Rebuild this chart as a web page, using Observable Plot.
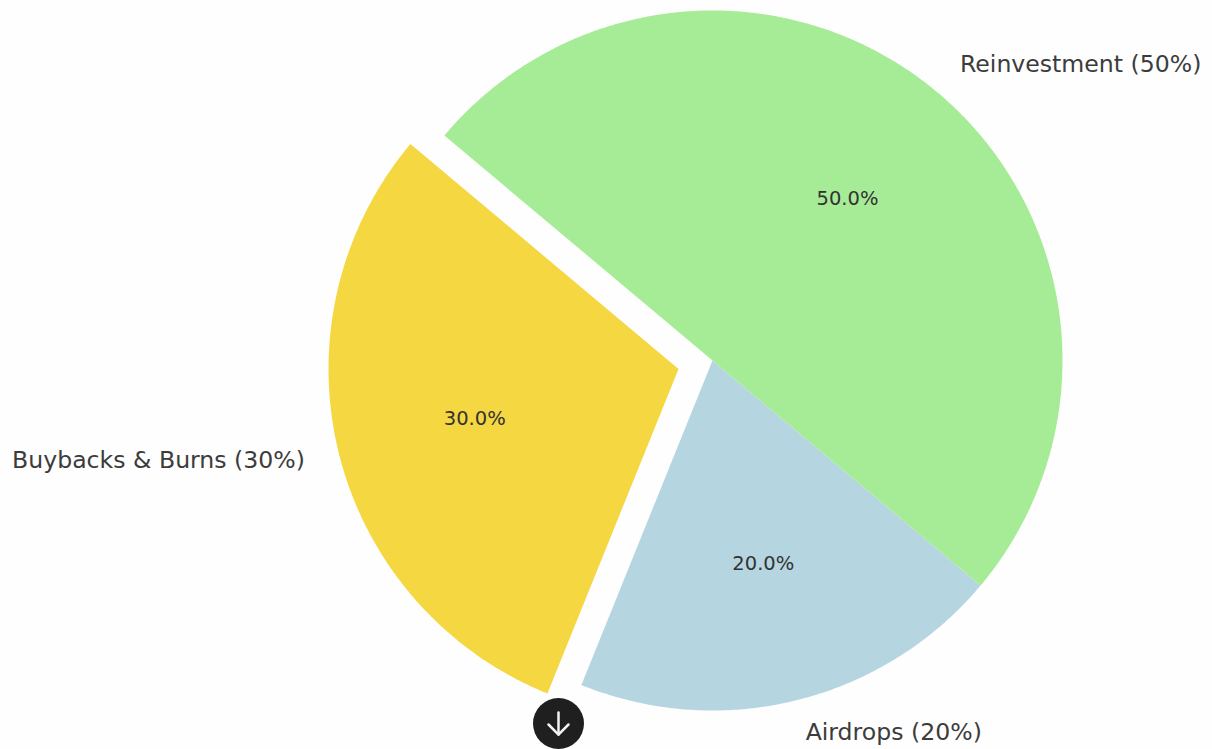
<!DOCTYPE html>
<html>
<head>
<meta charset="utf-8">
<script src="https://cdn.jsdelivr.net/npm/d3@7"></script>
<script src="https://cdn.jsdelivr.net/npm/@observablehq/plot@0.6"></script>
<style>
html,body{margin:0;padding:0;background:#fefefe;overflow:hidden}
svg{display:block}
</style>
</head>
<body>
<div id="chart"></div>
<script>
const categories = ["Buybacks & Burns", "Airdrops", "Reinvestment"];
const shares = [30, 20, 50];
const colors = ["#F5D742", "#B5D6E0", "#A6EC96"];
const explode = [0.1, 0, 0];
const startAngle = 140;

const width = 1212, height = 749;
const cx = 712, cy = 360, R = 350;
const rad = d => d * Math.PI / 180;

let acc = startAngle;
const slices = categories.map((name, i) => {
  const a0 = acc, a1 = acc + shares[i] * 3.6;
  acc = a1;
  const mid = (a0 + a1) / 2;
  const ox = explode[i] * Math.cos(rad(mid));
  const oy = explode[i] * Math.sin(rad(mid));
  return {name, share: shares[i], color: colors[i], a0, a1, mid, ox, oy};
});

const outline = slices.flatMap(s => {
  const pts = [{name: s.name, color: s.color, x: s.ox, y: s.oy}];
  const steps = Math.ceil((s.a1 - s.a0) * 2);
  for (let k = 0; k <= steps; k++) {
    const a = rad(s.a0 + (s.a1 - s.a0) * k / steps);
    pts.push({name: s.name, color: s.color, x: s.ox + Math.cos(a), y: s.oy + Math.sin(a)});
  }
  return pts;
});

const outer = slices.map(s => ({
  label: `${s.name} (${s.share}%)`,
  x: s.ox + 1.1 * Math.cos(rad(s.mid)),
  y: s.oy + 1.1 * Math.sin(rad(s.mid))
}));
const inner = slices.map(s => ({
  label: `${s.share.toFixed(1)}%`,
  x: s.ox + 0.6 * Math.cos(rad(s.mid)),
  y: s.oy + 0.6 * Math.sin(rad(s.mid))
}));

// The round "scroll down" button that sits over the picture, in pie-radius units
const button = [{x: -0.44, y: -1.0371}];
const buttonArrow = [
  {part: "shaft", x: -0.44, y: -1.0057},
  {part: "shaft", x: -0.44, y: -1.0686},
  {part: "head", x: -0.4686, y: -1.04},
  {part: "head", x: -0.44, y: -1.0686},
  {part: "head", x: -0.4114, y: -1.04}
];

const font = "'DejaVu Sans'";
const chart = Plot.plot({
  width, height,
  margin: 0,
  style: {background: "#fefefe", fontFamily: font},
  x: {domain: [-cx / R, (width - cx) / R], range: [0, width], axis: null},
  y: {domain: [cy / R, (cy - height) / R], range: [0, height], axis: null},
  marks: [
    Plot.line(outline, {x: "x", y: "y", z: "name", fill: "color", stroke: null, curve: "linear"}),
    Plot.text(outer.filter(d => d.x > 0), {x: "x", y: "y", text: "label", textAnchor: "start", fontSize: 23.6, dy: -1.5, fill: "#3c3c3c"}),
    Plot.text(outer.filter(d => d.x <= 0), {x: "x", y: "y", text: "label", textAnchor: "end", fontSize: 23.6, dy: -1.5, fill: "#3c3c3c"}),
    Plot.text(inner, {x: "x", y: "y", text: "label", fontSize: 19.5, dy: -1, fill: "#333333"}),
    Plot.dot(button, {x: "x", y: "y", r: 25.5, fill: "#1f1f1f", stroke: null}),
    Plot.line(buttonArrow, {x: "x", y: "y", z: "part", stroke: "#f2f2f2", strokeWidth: 2.5, strokeLinecap: "round", strokeLinejoin: "round", curve: "linear"})
  ]
});
document.getElementById("chart").append(chart);
</script>
</body>
</html>
